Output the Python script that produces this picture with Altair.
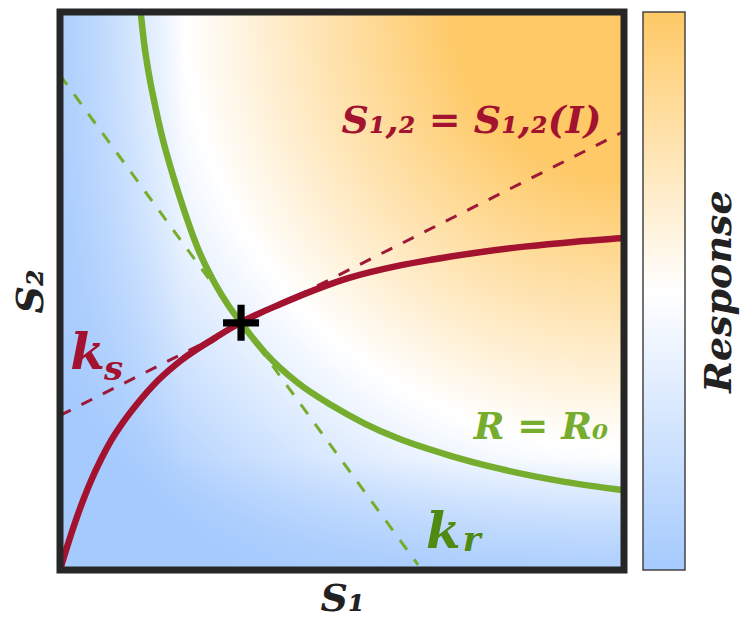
import altair as alt
import pandas as pd

# ---------------- values (plot units 0..100) ----------------
# solid red curve  S1,2 = S1,2(I)
red_s1 = [0, 1.4, 2.7, 4.1, 5.5, 7.3, 9.0, 11.2, 13.3, 17.4, 21.5, 27.5, 32.1, 39.2, 45.2, 51.1, 59.9, 65.8, 74.1, 82.8, 91.0, 100]
red_s2 = [0, 4.6, 8.6, 12.5, 16.0, 19.9, 23.1, 26.5, 29.3, 34.0, 37.6, 41.6, 44.4, 47.7, 50.2, 52.3, 54.5, 55.6, 56.9, 58.0, 58.8, 59.5]
# solid green curve  R = R0
green_s1 = [14.3, 14.9, 15.6, 16.7, 17.9, 19.5, 21.5, 24.5, 27.5, 29.8, 32.1, 36.3, 42.2, 48.0, 54.1, 59.9, 68.8, 77.7, 89.5, 100]
green_s2 = [100, 94.5, 89.8, 84.0, 78.5, 72.5, 66.0, 57.5, 51.3, 47.5, 44.3, 39.0, 33.5, 29.6, 26.2, 23.6, 20.6, 18.2, 15.8, 14.3]
# dashed tangents
kr_s1 = [0, 63.5]
kr_s2 = [88.7, 0.9]
ks_s1 = [0, 100]
ks_s2 = [27.7, 78.6]
# operating point (+)
op_s1 = [32.1]
op_s2 = [44.3]
# texts
label_red = "S₁,₂ = S₁,₂(I)"
label_green = "R = R₀"
k_letter = "k"
ks_sub = "s"
kr_sub = "r"
x_title = "S₁"
y_title = "S₂"
cbar_title = "Response"

# ---------------- style ----------------
W = 564
H = 558
RED = "#a3122f"
RED_D = "#9e1838"
GREEN = "#77ad2f"
GREEN_K = "#4f8a13"
DARK = "#222222"
BLUE_C = "#a5cafd"
BLUE_A = "rgba(165,202,253,0.8)"
BLUE_0 = "rgba(165,202,253,0)"
ORANGE_C = "#fec966"
FONT = "DejaVu Serif"

xscale = alt.Scale(domain=[0, 100], nice=False, zero=False)
yscale = alt.Scale(domain=[0, 100], nice=False, zero=False)
ax_common = dict(labels=False, ticks=False, domain=False, grid=False,
                 titleFont=FONT, titleFontStyle="italic",
                 titleFontWeight="bold", titleColor=DARK)
xaxis = alt.Axis(titlePadding=10, titleFontSize=38, **ax_common)
yaxis = alt.Axis(titlePadding=10, titleFontSize=38, **ax_common)


def X(f):
    return alt.X(f"{f}:Q", scale=xscale, axis=xaxis, title=x_title)


def Y(f):
    return alt.Y(f"{f}:Q", scale=yscale, axis=yaxis, title=y_title)


radial = alt.RadialGradient(
    gradient="radial", x1=1, y1=0, r1=0, x2=1, y2=0, r2=1.414,
    stops=[
        alt.GradientStop(offset=0.0, color=ORANGE_C),
        alt.GradientStop(offset=0.21, color=ORANGE_C),
        alt.GradientStop(offset=0.55, color="#ffffff"),
        alt.GradientStop(offset=0.85, color=BLUE_C),
        alt.GradientStop(offset=1.0, color=BLUE_C),
    ],
)
left_fade = alt.LinearGradient(
    gradient="linear", x1=0, y1=0, x2=0.22, y2=0,
    stops=[alt.GradientStop(offset=0, color=BLUE_A), alt.GradientStop(offset=1, color=BLUE_0)],
)
bottom_fade = alt.LinearGradient(
    gradient="linear", x1=0, y1=1, x2=0, y2=0.8,
    stops=[alt.GradientStop(offset=0, color=BLUE_A), alt.GradientStop(offset=1, color=BLUE_0)],
)

bg_df = pd.DataFrame({"a": [0], "b": [100], "c": [0], "d": [100]})


def full_rect(**mark_kw):
    return alt.Chart(bg_df).mark_rect(**mark_kw).encode(
        x=X("a"), x2=alt.X2("b", title=x_title), y=Y("c"), y2=alt.Y2("d", title=y_title)
    )


bg = full_rect(fill=radial, strokeWidth=0)
bg_l = full_rect(fill=left_fade, strokeWidth=0)
bg_b = full_rect(fill=bottom_fade, strokeWidth=0)
frame = full_rect(fillOpacity=0, stroke="#262626", strokeWidth=7)


def line_df(xs, ys):
    return pd.DataFrame({"s1": xs, "s2": ys, "i": list(range(len(xs)))})


def line_layer(xs, ys, color, width, dash=None, interp="monotone"):
    kw = dict(color=color, strokeWidth=width, interpolate=interp, clip=True, strokeCap="butt")
    if dash:
        kw["strokeDash"] = dash
    return alt.Chart(line_df(xs, ys)).mark_line(**kw).encode(
        x=X("s1"), y=Y("s2"), order="i:Q"
    )


kr_line = line_layer(kr_s1, kr_s2, GREEN, 3, dash=[12, 12], interp="linear")
ks_line = line_layer(ks_s1, ks_s2, RED_D, 3, dash=[12, 12], interp="linear")
green_line = line_layer(green_s1, green_s2, GREEN, 6.5)
red_line = line_layer(red_s1, red_s2, RED, 6.5)

plus_path = "M-1,-0.2H1V0.2H-1Z M-0.2,-1H0.2V1H-0.2Z"
op = alt.Chart(pd.DataFrame({"s1": op_s1, "s2": op_s2})).mark_point(
    shape=plus_path, size=1296, filled=True, color="black", opacity=1, strokeWidth=0
).encode(x=X("s1"), y=Y("s2"))


def text_layer(txt, x, y, color, size, align="left"):
    df = pd.DataFrame({"s1": [x], "s2": [y], "t": [txt]})
    return alt.Chart(df).mark_text(
        align=align, baseline="alphabetic", font=FONT, fontStyle="italic",
        fontWeight="bold", fontSize=size, color=color
    ).encode(x=X("s1"), y=Y("s2"), text="t:N")


t_red = text_layer(label_red, 96.0, 78.4, RED, 38, align="right")
t_green = text_layer(label_green, 97.2, 23.4, GREEN, 37, align="right")
t_k1 = text_layer(k_letter, 1.8, 36.0, RED, 50)
t_s = text_layer(ks_sub, 7.8, 34.0, RED, 34)
t_k2 = text_layer(k_letter, 64.9, 3.9, GREEN_K, 50)
t_r = text_layer(kr_sub, 71.4, 3.4, GREEN_K, 34)

main = alt.layer(
    bg, bg_l, bg_b, kr_line, ks_line, green_line, red_line, op,
    t_red, t_green, t_k1, t_s, t_k2, t_r, frame
).properties(width=W, height=H)

linear = alt.LinearGradient(
    gradient="linear", x1=0, y1=1, x2=0, y2=0,
    stops=[
        alt.GradientStop(offset=0.0, color=BLUE_C),
        alt.GradientStop(offset=0.5, color="#ffffff"),
        alt.GradientStop(offset=1.0, color=ORANGE_C),
    ],
)
cb_df = pd.DataFrame({"lo": [0], "hi": [1]})
cb = alt.Chart(cb_df).mark_rect(fill=linear, stroke="#444444", strokeWidth=1.5).encode(
    x=alt.X("lo:Q", scale=alt.Scale(domain=[0, 1], nice=False), axis=None),
    x2="hi",
    y=alt.Y("lo:Q", scale=alt.Scale(domain=[0, 1], nice=False), title=cbar_title,
            axis=alt.Axis(orient="right", labels=False, ticks=False, domain=False, grid=False,
                          titleFont=FONT, titleFontSize=38, titleFontStyle="italic",
                          titleFontWeight="bold", titleColor=DARK, titleAngle=270,
                          titleBaseline="top", titlePadding=15)),
    y2="hi",
).properties(width=42, height=H)

chart = alt.hconcat(main, cb, spacing=14).properties(
    padding={"left": 4, "top": 0, "right": 2, "bottom": 0}
).configure_view(strokeWidth=0)

chart.save("out.html", embed_options={"renderer": "svg", "actions": False})
